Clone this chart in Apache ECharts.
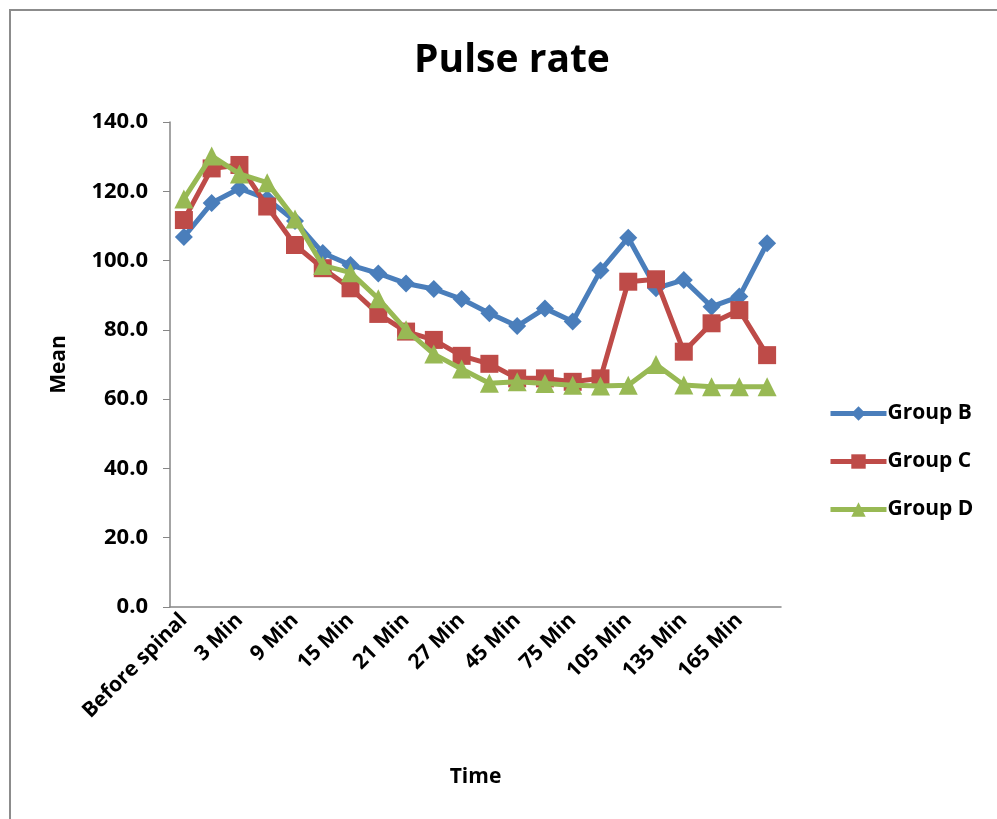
<!DOCTYPE html>
<html>
<head>
<meta charset="utf-8">
<script src="https://cdn.jsdelivr.net/npm/echarts@6/dist/echarts.min.js"></script>
<style>html,body{margin:0;padding:0;background:#fff}#c{width:997px;height:819px}</style>
</head>
<body>
<div id="c"></div>
<script>
var categories = ['Before spinal','0 Min','3 Min','6 Min','9 Min','12 Min','15 Min','18 Min','21 Min','24 Min','27 Min','30 Min','45 Min','60 Min','75 Min','90 Min','105 Min','120 Min','135 Min','150 Min','165 Min','180 Min'];
var groupB = [106.8,116.6,120.8,117.8,111.4,102.2,98.7,96.3,93.4,91.8,88.9,84.8,81.1,86.2,82.4,97.1,106.6,92.0,94.4,86.7,89.6,105.0];
var groupC = [111.7,126.6,127.6,115.6,104.5,97.8,92.0,84.6,79.5,77.1,72.5,70.2,66.0,66.0,65.0,66.0,93.9,94.6,73.7,81.9,85.7,72.7];
var groupD = [117.8,130.2,125.0,122.5,112.0,98.6,96.5,89.0,80.0,73.0,68.7,64.6,65.0,64.5,64.0,63.8,64.0,70.0,64.1,63.6,63.6,63.6];
var yTicks = [0,20,40,60,80,100,120,140];

var chart = echarts.init(document.getElementById('c'));
var FONT = '"Open Sans", "Liberation Sans", sans-serif';
chart.setOption({
  animation: false,
  backgroundColor: '#fff',
  title: {
    text: 'Pulse rate', left: 507, top: 36, textAlign: 'center',
    textStyle: {fontFamily: FONT, fontWeight: 'bold', fontSize: 39, color: '#000'}
  },
  graphic: [
    {type: 'polyline', shape: {points: [[10, 830], [10, 10], [1000, 10]]}, style: {stroke: '#8c8c8c', lineWidth: 2, fill: null}}
  ],
  legend: {
    orient: 'vertical', left: 823, top: 398, itemGap: 27, itemWidth: 56, itemHeight: 18,
    lineStyle: {width: 5},
    textStyle: {fontFamily: FONT, fontWeight: 'bold', fontSize: 21, lineHeight: 18, color: '#000', padding: [0,0,0,-4]},
    data: ['Group B','Group C','Group D']
  },
  grid: {left: 170, right: 216, top: 122, bottom: 212},
  xAxis: {
    type: 'category', data: categories, boundaryGap: true,
    name: 'Time', nameLocation: 'middle', nameGap: 160,
    nameTextStyle: {fontFamily: FONT, fontWeight: 'bold', fontSize: 21, color: '#000'},
    axisLine: {lineStyle: {color: '#868686', width: 1.5}},
    axisTick: {show: false},
    axisLabel: {interval: 1, rotate: 45, fontFamily: FONT, fontWeight: 'bold', fontSize: 21, color: '#000', margin: 10}
  },
  yAxis: {
    type: 'value', min: 0, max: 140, interval: 20,
    name: 'Mean', nameLocation: 'middle', nameGap: 100, nameRotate: 90,
    nameTextStyle: {fontFamily: FONT, fontWeight: 'bold', fontSize: 21, color: '#000'},
    axisLine: {show: true, lineStyle: {color: '#868686', width: 1.5}},
    axisTick: {show: true, inside: false, length: 7, lineStyle: {color: '#868686'}},
    splitLine: {show: false},
    axisLabel: {fontFamily: FONT, fontWeight: 'bold', fontSize: 22, color: '#000', margin: 22,
      formatter: function (v) { return yTicks.indexOf(v) >= 0 ? v.toFixed(1) : ''; }}
  },
  series: [
    {name: 'Group B', type: 'line', data: groupB, symbol: 'diamond', symbolSize: 18, showAllSymbol: true,
     itemStyle: {color: '#4a7ebb'}, lineStyle: {color: '#4a7ebb', width: 5}, z: 3},
    {name: 'Group C', type: 'line', data: groupC, symbol: 'rect', symbolSize: 18, showAllSymbol: true,
     itemStyle: {color: '#be4b48'}, lineStyle: {color: '#be4b48', width: 5}, z: 4},
    {name: 'Group D', type: 'line', data: groupD, symbol: 'triangle', symbolSize: 19, showAllSymbol: true,
     itemStyle: {color: '#98b954'}, lineStyle: {color: '#98b954', width: 5}, z: 5}
  ]
});
</script>
</body>
</html>
